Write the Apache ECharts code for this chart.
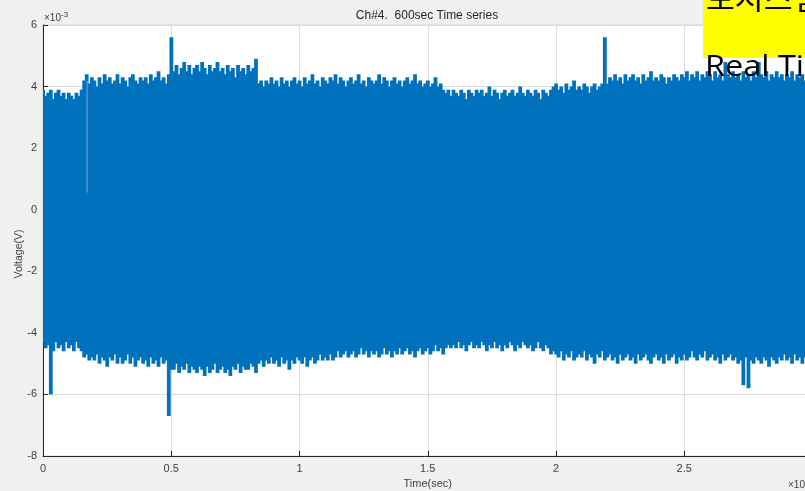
<!DOCTYPE html>
<html>
<head>
<meta charset="utf-8">
<script src="https://cdn.jsdelivr.net/npm/echarts@6/dist/echarts.min.js"></script>
<style>
html,body{margin:0;padding:0;background:#f0f0f0;}
#chart{width:805px;height:491px;}
</style>
</head>
<body>
<div id="chart"></div>
<script>
// ---- data (values in units of 1e-3 V), sampled every 0.01 (x10^5 s) ----
const tStep = 0.01;
// upper envelope of the signal
const upperEnv = [
 3.9,3.7,3.8,3.9,3.6,3.8,3.9,3.7,3.8,3.6,
 3.8,3.7,3.6,3.8,3.7,3.9,4.2,4.4,4.1,4.3,
 4.2,4.0,4.3,4.1,4.4,4.2,4.3,4.1,4.2,4.4,
 4.1,4.3,4.2,4.0,4.3,4.4,4.2,4.1,4.3,4.2,
 4.3,4.1,4.4,4.2,4.3,4.5,4.2,4.3,4.1,4.4,
 5.6,4.5,4.7,4.4,4.6,4.8,4.5,4.7,4.4,4.6,
 4.7,4.5,4.8,4.6,4.4,4.7,4.5,4.6,4.8,4.5,
 4.6,4.4,4.7,4.5,4.6,4.3,4.7,4.5,4.6,4.4,
 4.7,4.5,4.6,4.9,4.1,4.2,4.0,4.2,4.1,4.3,
 4.1,4.2,4.0,4.3,4.1,4.2,4.0,4.2,4.3,4.1,
 4.2,4.0,4.3,4.1,4.2,4.4,4.1,4.2,4.0,4.3,
 4.2,4.1,4.3,4.2,4.4,4.1,4.3,4.2,4.0,4.2,
 4.3,4.1,4.2,4.4,4.1,4.2,4.0,4.3,4.2,4.1,
 4.2,4.4,4.1,4.3,4.2,4.0,4.2,4.3,4.1,4.2,
 4.0,4.2,4.3,4.1,4.2,4.4,4.1,4.2,4.0,4.1,
 4.2,4.0,4.1,4.3,4.0,4.1,3.9,3.8,3.9,3.7,
 3.9,3.8,3.7,3.9,3.8,3.6,3.9,3.8,3.7,3.9,
 3.8,3.9,3.7,3.8,4.0,3.7,3.9,3.8,3.6,3.8,
 3.9,3.7,3.8,3.9,3.7,3.8,4.0,3.8,3.7,3.9,
 3.8,3.7,3.9,3.8,3.6,3.9,3.8,3.7,3.9,4.0,
 4.1,3.9,4.0,3.8,4.1,3.9,4.0,4.2,3.9,4.0,
 3.9,4.1,4.0,3.8,4.0,4.1,3.9,4.0,4.1,5.6,
 4.1,4.3,4.2,4.4,4.2,4.3,4.1,4.4,4.2,4.3,
 4.4,4.2,4.3,4.1,4.4,4.2,4.3,4.5,4.2,4.3,
 4.2,4.4,4.3,4.1,4.3,4.2,4.4,4.3,4.2,4.4,
 4.3,4.5,4.2,4.4,4.3,4.5,4.2,4.4,4.3,4.5,
 4.4,4.2,4.5,4.3,4.4,4.2,4.8,4.4,4.3,4.5,
 4.3,4.4,4.2,4.5,4.3,4.4,4.2,4.5,4.3,4.8,
 4.4,4.3,4.5,4.2,4.4,4.3,4.5,4.3,4.4,4.2,
 4.4,4.3,4.5,4.2,4.4,4.3,4.4,4.2,4.5,4.3,4.4
];
// lower envelope of the signal
const lowerEnv = [
 -4.3,-4.5,-4.4,-6.0,-4.6,-4.3,-4.5,-4.4,-4.6,-4.3,
 -4.5,-4.4,-4.6,-4.3,-4.5,-4.6,-4.8,-4.7,-4.9,-4.8,
 -4.9,-4.7,-5.0,-4.8,-4.9,-5.1,-4.8,-4.9,-4.7,-5.0,
 -4.8,-5.0,-4.9,-4.7,-5.0,-4.8,-5.1,-4.9,-4.8,-5.0,
 -4.9,-5.1,-4.8,-5.0,-4.9,-5.1,-4.8,-5.0,-4.9,-6.7,
 -5.2,-5.2,-5.0,-5.3,-5.1,-5.2,-5.0,-5.3,-5.1,-5.2,
 -5.3,-5.1,-5.2,-5.4,-5.1,-5.3,-5.2,-5.0,-5.3,-5.2,
 -5.1,-5.3,-5.2,-5.4,-5.1,-5.2,-5.0,-5.3,-5.1,-5.2,
 -5.2,-5.0,-5.1,-5.3,-5.0,-4.9,-5.1,-4.9,-5.0,-4.8,
 -5.0,-4.9,-5.1,-4.8,-5.0,-4.9,-5.2,-4.9,-5.0,-4.8,
 -4.9,-5.0,-4.8,-5.1,-4.9,-4.8,-5.0,-4.9,-4.7,-4.9,
 -4.8,-4.9,-4.7,-4.9,-4.8,-4.6,-4.8,-4.7,-4.6,-4.8,
 -4.7,-4.6,-4.8,-4.7,-4.5,-4.7,-4.6,-4.8,-4.6,-4.7,
 -4.6,-4.8,-4.7,-4.5,-4.7,-4.6,-4.8,-4.6,-4.7,-4.5,
 -4.7,-4.6,-4.5,-4.7,-4.6,-4.8,-4.6,-4.5,-4.7,-4.6,
 -4.5,-4.7,-4.6,-4.4,-4.6,-4.5,-4.7,-4.5,-4.4,-4.5,
 -4.4,-4.5,-4.3,-4.5,-4.4,-4.6,-4.4,-4.3,-4.5,-4.4,
 -4.5,-4.3,-4.4,-4.6,-4.4,-4.5,-4.3,-4.5,-4.4,-4.6,
 -4.4,-4.5,-4.3,-4.4,-4.6,-4.4,-4.5,-4.3,-4.4,-4.5,
 -4.4,-4.6,-4.5,-4.3,-4.5,-4.6,-4.4,-4.5,-4.7,-4.6,
 -4.7,-4.8,-4.6,-4.9,-4.7,-4.8,-4.6,-4.9,-4.8,-4.7,
 -4.8,-4.6,-4.9,-4.7,-4.8,-5.0,-4.7,-4.8,-4.6,-4.9,
 -4.8,-4.7,-4.9,-4.8,-5.0,-4.7,-4.9,-4.8,-4.7,-4.9,
 -4.8,-5.0,-4.7,-4.9,-4.8,-4.7,-4.9,-5.0,-4.8,-4.7,
 -4.9,-4.8,-5.0,-4.7,-4.9,-4.8,-4.7,-5.0,-4.8,-4.9,
 -4.7,-4.9,-4.8,-4.6,-4.8,-4.9,-4.7,-4.8,-4.6,-4.9,
 -4.8,-4.7,-4.9,-4.8,-5.0,-4.7,-4.9,-4.8,-4.7,-4.9,
 -4.8,-5.0,-4.9,-5.7,-4.8,-5.8,-4.9,-5.0,-4.8,-4.9,
 -5.0,-4.8,-4.9,-5.1,-4.8,-4.9,-5.0,-4.8,-4.9,-4.7,
 -4.9,-4.8,-5.0,-4.7,-4.9,-4.8,-5.0,-4.8,-4.9,-4.7,-4.8
];
// lighter streaks inside the band: [time, top, bottom]
const streaks = [[0.172, 4.2, 0.55]];
const xTickLabels = ['0','0.5','1','1.5','2','2.5','3'];
const yTickLabels = ['-8','-6','-4','-2','0','2','4','6'];
const titleText = 'Ch#4.  600sec Time series';
const xName = 'Time(sec)';
const yName = 'Voltage(V)';
const noteLine1 = '모시스템';
const noteLine2 = 'Real Time';

const bandData = upperEnv.map((u, i) => [i * tStep, u, lowerEnv[i]]);

const chart = echarts.init(document.getElementById('chart'), null, {renderer: 'canvas'});
const axisColor = '#262626';
const labelColor = '#404040';
const fontFam = 'Liberation Sans, Arial, Helvetica, sans-serif';

function bandItem(params, api) {
  const x = api.value(0), hi = api.value(1), lo = api.value(2);
  const p1 = api.coord([x - tStep / 2, hi]);
  const p2 = api.coord([x + tStep / 2, lo]);
  return {type: 'rect', shape: {x: p1[0] - 0.5, y: p1[1], width: p2[0] - p1[0] + 1.2, height: p2[1] - p1[1]},
          style: {fill: '#0072BD'}};
}
function streakItem(params, api) {
  const x = api.value(0), hi = api.value(1), lo = api.value(2);
  const p1 = api.coord([x, hi]);
  const p2 = api.coord([x, lo]);
  return {type: 'rect', shape: {x: p1[0] - 0.6, y: p1[1], width: 1.2, height: p2[1] - p1[1]},
          style: {fill: '#5b9fd8'}};
}

chart.setOption({
  animation: false,
  backgroundColor: '#f0f0f0',
  grid: {
    left: 43, top: 25, width: 769.5, height: 431,
    outerBoundsMode: 'none',
    show: true, backgroundColor: '#ffffff', borderColor: '#d6d6d6', borderWidth: 1,
    containLabel: false
  },
  xAxis: {
    type: 'value', min: 0, max: 3, interval: 0.5,
    name: xName, nameLocation: 'middle', nameGap: 21,
    nameTextStyle: {color: labelColor, fontSize: 11, fontFamily: fontFam},
    axisLine: {show: true, onZero: false, lineStyle: {color: axisColor, width: 1}},
    axisTick: {show: true, inside: true, length: 5, lineStyle: {color: axisColor}},
    axisLabel: {color: labelColor, fontSize: 11, fontFamily: fontFam, margin: 7,
      formatter: (v) => xTickLabels[Math.round(v / 0.5)] ?? ''},
    splitLine: {show: true, lineStyle: {color: '#dcdcdc', width: 1}}
  },
  yAxis: {
    type: 'value', min: -8, max: 6, interval: 2,
    axisLine: {show: true, onZero: false, lineStyle: {color: axisColor, width: 1}},
    axisTick: {show: true, inside: true, length: 5, lineStyle: {color: axisColor}},
    axisLabel: {color: labelColor, fontSize: 11, fontFamily: fontFam, margin: 6,
      formatter: (v) => yTickLabels[Math.round((v + 8) / 2)] ?? ''},
    splitLine: {show: true, lineStyle: {color: '#dcdcdc', width: 1}}
  },
  series: [
    {type: 'custom', data: bandData, renderItem: bandItem, clip: true, z: 3},
    {type: 'custom', data: streaks, renderItem: streakItem, clip: true, z: 4}
  ],
  graphic: [
    {type: 'text', x: 427, y: 16, style: {text: titleText, fill: '#262626', font: '12px ' + fontFam, textAlign: 'center', textVerticalAlign: 'middle'}},
    {type: 'text', x: 19, y: 254, rotation: Math.PI / 2, style: {text: yName, fill: labelColor, font: '10.5px ' + fontFam, textAlign: 'center', textVerticalAlign: 'middle'}},
    {type: 'text', x: 44, y: 11, style: {
      text: '{a|×10}{b|-3}', fill: labelColor,
      rich: {a: {fontSize: 10, fontFamily: fontFam, color: labelColor},
             b: {fontSize: 8, fontFamily: fontFam, color: labelColor, padding: [0,0,7,0]}}
    }},
    {type: 'text', x: 788, y: 478, style: {
      text: '{a|×10}{b|5}', fill: labelColor,
      rich: {a: {fontSize: 10, fontFamily: fontFam, color: labelColor},
             b: {fontSize: 8, fontFamily: fontFam, color: labelColor, padding: [0,0,7,0]}}
    }},
    {type: 'rect', shape: {x: 703, y: -5, width: 110, height: 63}, style: {fill: '#ffff00'}, z: 100},
    {type: 'text', x: 706, y: 13, scaleX: 1.12, z: 101, style: {text: noteLine1, fill: '#000', font: '28px "Noto Sans CJK KR"', textVerticalAlign: 'bottom'}},
    {type: 'text', x: 705, y: 53, scaleX: 1.12, z: 101, style: {text: noteLine2, fill: '#000', font: '29px "Open Sans"', textVerticalAlign: 'alphabetic'}}
  ]
});
</script>
</body>
</html>
